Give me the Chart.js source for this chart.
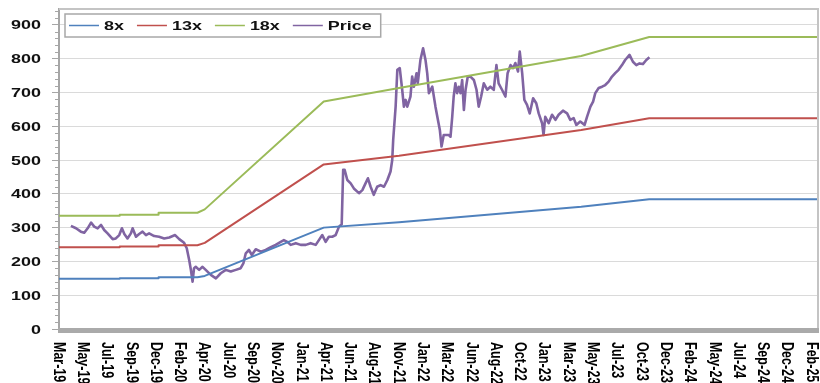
<!DOCTYPE html>
<html>
<head>
<meta charset="utf-8">
<script src="https://cdn.jsdelivr.net/npm/chart.js@4.4.1/dist/chart.umd.min.js"></script>
<style>
  html, body { margin: 0; padding: 0; background: #fff; }
</style>
</head>
<body>
<canvas id="chart" width="820" height="383"></canvas>
<script>
// x axis is in weeks from early March 2019, one label every 10 weeks
const tickWeeks = [0, 10, 20, 30, 40, 50, 60, 70, 80, 90, 100, 110, 120, 130, 140, 150,
  160, 170, 180, 190, 200, 210, 220, 230, 240, 250, 260, 270, 280, 290, 300, 310];
const tickLabels = ['Mar-19', 'May-19', 'Jul-19', 'Sep-19', 'Dec-19', 'Feb-20', 'Apr-20', 'Jul-20',
  'Sep-20', 'Nov-20', 'Jan-21', 'Apr-21', 'Jun-21', 'Aug-21', 'Nov-21', 'Jan-22', 'Mar-22', 'Jun-22',
  'Aug-22', 'Oct-22', 'Jan-23', 'Mar-23', 'May-23', 'Jul-23', 'Oct-23', 'Dec-23', 'Feb-24', 'May-24',
  'Jul-24', 'Sep-24', 'Dec-24', 'Feb-25'];
const yTicks = [0, 100, 200, 300, 400, 500, 600, 700, 800, 900];

// P/E bands (8x, 13x, 18x)
const bandWeeks = [0, 24.9, 25, 40.9, 41, 57, 60, 109, 140, 215, 243, 312.5];
const band8x  = [149, 149, 150, 150, 153, 153, 157, 300, 316, 362, 384, 384];
const band13x = [242, 242, 244, 244, 248, 248, 255, 487, 513, 589, 624, 624];
const band18x = [335, 335, 338, 338, 344, 344, 354, 673, 713, 808, 864, 864];

// share price
const priceWeeks = [4.9, 7.0, 9.0, 10.4, 11.8, 13.2, 14.5, 15.9, 17.3, 18.6, 20.0, 22.1, 23.4, 24.8,
  25.9, 26.9, 28.2, 29.6, 30.3, 31.7, 33.0, 34.4, 35.8, 37.1, 39.2, 41.2, 43.3, 45.4, 47.8, 49.5,
  51.5, 52.6, 53.6, 54.3, 55.0, 55.6, 56.3, 57.7, 59.1, 60.4, 62.5, 64.6, 66.6, 68.7, 70.7, 72.8,
  74.8, 75.9, 76.9, 78.2, 79.4, 81.0, 83.1, 85.1, 87.2, 89.2, 91.3, 92.6, 94.0, 95.4, 97.5, 99.5,
  101.6, 103.6, 105.7, 107.0, 108.4, 109.8, 111.1, 112.5, 113.9, 115.3, 116.4, 117.0, 117.6, 118.7,
  120.1, 121.4, 123.5, 124.9, 126.2, 127.2, 128.3, 129.6, 131.0, 132.4, 133.8, 135.2, 136.5, 137.2,
  137.6, 138.6, 139.3, 140.3, 141.3, 142.0, 142.7, 143.4, 144.7, 145.4, 146.1, 147.2, 147.7, 148.8,
  149.9, 150.9, 151.6, 152.3, 153.7, 155.0, 156.0, 156.8, 157.5, 158.4, 160.5, 161.2, 161.9, 162.5,
  163.2, 163.9, 164.6, 165.3, 166.0, 166.7, 167.4, 168.3, 169.4, 170.8, 171.9, 172.8, 173.8, 174.9,
  176.3, 177.6, 179.0, 180.1, 181.0, 182.4, 183.8, 184.7, 185.9, 187.0, 187.9, 189.0, 189.7, 190.7,
  191.6, 192.7, 193.8, 195.2, 196.5, 197.5, 198.9, 199.5, 200.2, 201.6, 203.0, 204.4, 205.7, 207.5,
  209.2, 210.5, 211.9, 213.0, 214.6, 216.4, 217.4, 218.8, 219.9, 220.8, 222.2, 223.6, 224.9, 226.3,
  227.7, 229.0, 230.4, 231.8, 233.1, 234.9, 236.3, 237.7, 239.0, 240.4, 241.8, 243.1];
const priceValues = [305, 298, 288, 285, 298, 315, 303, 298, 308, 293, 283, 266, 268, 278,
  298, 281, 268, 283, 298, 273, 281, 288, 278, 283, 275, 273, 268, 271, 278, 266,
  255, 239, 204, 175, 140, 180, 184, 175, 184, 175, 160, 150, 165, 175, 170, 175,
  180, 194, 224, 234, 219, 236, 229, 234, 242, 249, 258, 263, 258, 249, 254, 249,
  249, 254, 249, 263, 278, 258, 273, 273, 278, 303, 310, 471, 471, 441,
  431, 416, 402, 411, 431, 446, 421, 397, 421, 426, 421, 441, 466, 500,
  560, 658, 767, 772, 708, 658, 678, 658, 688, 747, 717, 757, 727, 796,
  831, 796, 757, 698, 717, 658, 619, 589, 540, 574, 574, 569, 628, 688,
  727, 698, 717, 698, 737, 648, 708, 747, 747, 737, 708, 658, 688, 727,
  708, 717, 708, 781, 727, 708, 688, 757, 781, 772, 787, 762, 821, 757,
  678, 663, 638, 683, 668, 638, 609, 574, 628, 609, 634, 619, 634, 646,
  638, 619, 624, 604, 614, 604, 628, 658, 673, 698, 713, 717, 722, 732,
  747, 757, 767, 781, 796, 811, 791, 781, 786, 784, 796, 804];

const seriesNames = ['8x', '13x', '18x', 'Price'];

const toPoints = (xs, ys) => xs.map((x, i) => ({ x: x, y: ys[i] }));
const STRETCH = 1.38;
const FONT = 'bold 13px "Liberation Sans", Arial, sans-serif';

const decor = {
  id: 'decor',
  afterDraw(chart) {
    const ctx = chart.ctx;
    const a = chart.chartArea;
    const xs = chart.scales.x;
    const ys = chart.scales.y;
    ctx.save();

    // frame top / right
    ctx.strokeStyle = '#c4c4c4';
    ctx.lineWidth = 2;
    ctx.beginPath();
    ctx.moveTo(a.left, a.top);
    ctx.lineTo(a.right, a.top);
    ctx.lineTo(a.right, a.bottom);
    ctx.stroke();

    // thick category axis
    ctx.fillStyle = '#aaaaaa';
    ctx.fillRect(a.left - 1, a.bottom - 1, a.right - a.left + 2, 5);

    // minor ticks on the value axis
    ctx.strokeStyle = '#a6a6a6';
    ctx.lineWidth = 1;
    for (let v = 20; v < ys.max; v += 20) {
      if (v % 100 === 0) continue;
      const y = Math.round(ys.getPixelForValue(v)) + 0.5;
      ctx.beginPath();
      ctx.moveTo(a.left - 4, y);
      ctx.lineTo(a.left, y);
      ctx.stroke();
    }

    // value labels
    ctx.fillStyle = '#111';
    ctx.font = FONT;
    ctx.textAlign = 'right';
    ctx.textBaseline = 'middle';
    yTicks.forEach(v => {
      ctx.save();
      ctx.translate(41, ys.getPixelForValue(v) + 1);
      ctx.scale(STRETCH, 1);
      ctx.fillText(String(v), 0, 0);
      ctx.restore();
    });

    // date labels, rotated to read downward
    ctx.fillStyle = '#000';
    ctx.font = 'bold 12.5px "Liberation Sans", Arial, sans-serif';
    ctx.textAlign = 'left';
    ctx.textBaseline = 'middle';
    tickWeeks.forEach((w, i) => {
      ctx.save();
      ctx.translate(xs.getPixelForValue(w) - 0.5, 342);
      ctx.scale(STRETCH, 1);
      ctx.rotate(Math.PI / 2);
      ctx.fillText(tickLabels[i], 0, 0);
      ctx.restore();
    });

    // legend box
    ctx.font = FONT;
    const colors = chart.data.datasets.map(d => d.borderColor);
    let x = 69;
    const items = seriesNames.map((name, i) => {
      const w = ctx.measureText(name).width * STRETCH;
      const item = { name, color: colors[i], x };
      x += 35 + w + 13;
      return item;
    });
    const boxR = x - 13 + 9;
    ctx.fillStyle = '#fff';
    ctx.fillRect(65, 14, boxR - 65, 23);
    ctx.strokeStyle = '#a8a8a8';
    ctx.lineWidth = 1.5;
    ctx.strokeRect(65, 14, boxR - 65, 23);
    items.forEach(it => {
      ctx.strokeStyle = it.color;
      ctx.lineWidth = 1.5;
      ctx.beginPath();
      ctx.moveTo(it.x, 25.5);
      ctx.lineTo(it.x + 30, 25.5);
      ctx.stroke();
      ctx.save();
      ctx.fillStyle = '#111';
      ctx.textAlign = 'left';
      ctx.textBaseline = 'middle';
      ctx.translate(it.x + 35, 26);
      ctx.scale(STRETCH, 1);
      ctx.fillText(it.name, 0, 0);
      ctx.restore();
    });

    ctx.restore();
  }
};

new Chart(document.getElementById('chart'), {
  type: 'line',
  data: {
    datasets: [
      { label: seriesNames[0], data: toPoints(bandWeeks, band8x), borderColor: '#4F81BD', borderWidth: 2 },
      { label: seriesNames[1], data: toPoints(bandWeeks, band13x), borderColor: '#C0504D', borderWidth: 2 },
      { label: seriesNames[2], data: toPoints(bandWeeks, band18x), borderColor: '#9BBB59', borderWidth: 2 },
      { label: seriesNames[3], data: toPoints(priceWeeks, priceValues), borderColor: '#8064A2', borderWidth: 2.6 }
    ]
  },
  options: {
    responsive: false,
    animation: false,
    parsing: false,
    elements: {
      point: { radius: 0 },
      line: { tension: 0, borderJoinStyle: 'round' }
    },
    layout: { padding: { left: 0, right: 2, top: 9, bottom: 0 } },
    scales: {
      x: {
        type: 'linear',
        min: 0,
        max: 312.5,
        grid: { display: false },
        border: { display: false },
        ticks: { display: false },
        afterBuildTicks: scale => { scale.ticks = tickWeeks.map(w => ({ value: w })); },
        afterFit: scale => { scale.height = 54; }
      },
      y: {
        min: 0,
        max: 947,
        ticks: { display: false, stepSize: 100, includeBounds: false },
        grid: { color: '#dadada', lineWidth: 1, tickLength: 7, tickColor: '#a6a6a6' },
        border: { display: true, color: '#a6a6a6', width: 2 },
        afterFit: scale => { scale.width = 59; }
      }
    },
    plugins: {
      legend: { display: false },
      tooltip: { enabled: false }
    }
  },
  plugins: [decor]
});
</script>
</body>
</html>
